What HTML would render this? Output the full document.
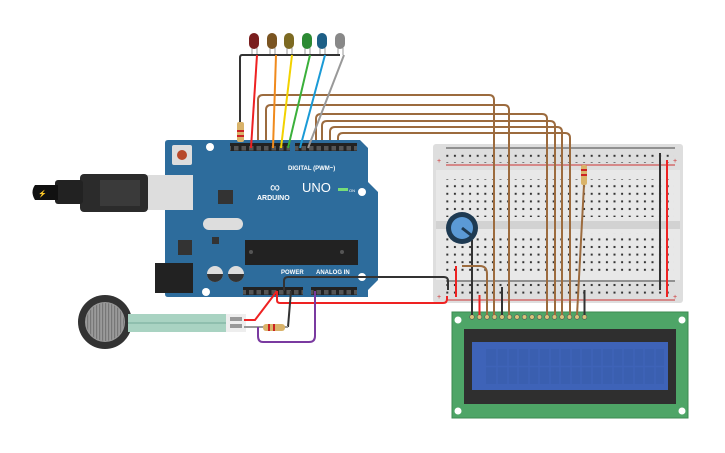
<!DOCTYPE html>
<html><head><style>html,body{margin:0;padding:0;background:#fff;width:725px;height:453px;overflow:hidden}</style></head>
<body>
<svg width="725" height="453" viewBox="0 0 725 453" xmlns="http://www.w3.org/2000/svg" font-family="Liberation Sans, sans-serif">
<defs>
<pattern id="holes" x="443.5" y="0" width="7.6" height="7.6" patternUnits="userSpaceOnUse"><rect x="2.8" y="2.8" width="2" height="2" fill="#333"/></pattern>
<pattern id="pins" x="0" y="0" width="7.5" height="8" patternUnits="userSpaceOnUse"><rect x="1.5" y="2" width="4.5" height="4.5" fill="#555"/></pattern>
<pattern id="stripes" x="0" y="0" width="3" height="3" patternUnits="userSpaceOnUse"><rect x="0" y="0" width="1.2" height="3" fill="#777"/></pattern>
</defs>
<!-- breadboard -->
<rect x="433" y="144" width="250" height="159" rx="3" fill="#dedede"/>
<rect x="436" y="170" width="244" height="110" fill="#e8e8e8"/>
<rect x="436" y="221" width="244" height="8" fill="#d2d2d2"/>
<line x1="446" y1="148" x2="675" y2="148" stroke="#444" stroke-width="1"/>
<line x1="446" y1="165" x2="675" y2="165" stroke="#c33" stroke-width="1"/>
<line x1="446" y1="281" x2="675" y2="281" stroke="#444" stroke-width="1"/>
<line x1="446" y1="300" x2="675" y2="300" stroke="#c33" stroke-width="1"/>
<rect x="446" y="150" width="228" height="13" fill="url(#holes)"/>
<rect x="446" y="179" width="228" height="38" fill="url(#holes)"/>
<rect x="446" y="233" width="228" height="38" fill="url(#holes)"/>
<rect x="446" y="283" width="228" height="13" fill="url(#holes)"/>
<text x="437" y="163" font-size="7" fill="#c33">+</text><text x="673" y="163" font-size="7" fill="#c33">+</text>
<text x="437" y="299" font-size="7" fill="#c33">+</text><text x="673" y="299" font-size="7" fill="#c33">+</text>
<line x1="660" y1="153" x2="660" y2="290" stroke="#333" stroke-width="2"/>
<line x1="667" y1="160" x2="667" y2="297" stroke="#e22" stroke-width="2"/>
<line x1="456" y1="266" x2="456" y2="297" stroke="#e22" stroke-width="2"/>
<!-- LCD -->
<rect x="452" y="312" width="236" height="106" fill="#4ea567" stroke="#3c8a52"/>
<circle cx="458" cy="320" r="3.5" fill="#fff"/><circle cx="682" cy="320" r="3.5" fill="#fff"/>
<circle cx="458" cy="411" r="3.5" fill="#fff"/><circle cx="682" cy="411" r="3.5" fill="#fff"/>
<rect x="464" y="329" width="212" height="75" fill="#2f2f2f"/>
<rect x="472" y="342" width="196" height="48" fill="#3e63b8"/>
<rect x="486" y="349" width="178" height="35" fill="#3a5fb0"/>
<g stroke="#3e63b8" stroke-width="1.5">
<line x1="497" y1="349" x2="497" y2="384"/><line x1="508" y1="349" x2="508" y2="384"/><line x1="518" y1="349" x2="518" y2="384"/><line x1="529" y1="349" x2="529" y2="384"/><line x1="539" y1="349" x2="539" y2="384"/><line x1="550" y1="349" x2="550" y2="384"/><line x1="560" y1="349" x2="560" y2="384"/><line x1="571" y1="349" x2="571" y2="384"/><line x1="581" y1="349" x2="581" y2="384"/><line x1="592" y1="349" x2="592" y2="384"/><line x1="602" y1="349" x2="602" y2="384"/><line x1="613" y1="349" x2="613" y2="384"/><line x1="623" y1="349" x2="623" y2="384"/><line x1="634" y1="349" x2="634" y2="384"/><line x1="644" y1="349" x2="644" y2="384"/><line x1="655" y1="349" x2="655" y2="384"/>
<line x1="486" y1="366.5" x2="664" y2="366.5"/>
</g>
<g fill="#d8c37a" stroke="#555" stroke-width="0.6">
<circle cx="472" cy="317" r="2.3"/><circle cx="479.5" cy="317" r="2.3"/><circle cx="487" cy="317" r="2.3"/><circle cx="494.5" cy="317" r="2.3"/><circle cx="502" cy="317" r="2.3"/><circle cx="509.5" cy="317" r="2.3"/><circle cx="517" cy="317" r="2.3"/><circle cx="524.5" cy="317" r="2.3"/><circle cx="532" cy="317" r="2.3"/><circle cx="539.5" cy="317" r="2.3"/><circle cx="547" cy="317" r="2.3"/><circle cx="554.5" cy="317" r="2.3"/><circle cx="562" cy="317" r="2.3"/><circle cx="569.5" cy="317" r="2.3"/><circle cx="577" cy="317" r="2.3"/><circle cx="584.5" cy="317" r="2.3"/>
</g>
<line x1="472" y1="240" x2="472" y2="315" stroke="#333" stroke-width="2"/>
<line x1="479.5" y1="295" x2="479.5" y2="315" stroke="#e22" stroke-width="2"/>
<path d="M462 266 H480 Q487 266 487 274 V315" fill="none" stroke="#9c6b3e" stroke-width="2"/>
<line x1="502" y1="287" x2="502" y2="315" stroke="#333" stroke-width="2"/>
<line x1="584.5" y1="290" x2="584.5" y2="315" stroke="#333" stroke-width="2"/>
<line x1="584" y1="185" x2="577" y2="315" stroke="#9c6b3e" stroke-width="2"/>
<rect x="581" y="165" width="6" height="20" rx="2" fill="#d9b36a"/>
<rect x="581" y="169" width="6" height="2" fill="#c22"/><rect x="581" y="174" width="6" height="2" fill="#c22"/>
<g fill="none" stroke="#9c6b3e" stroke-width="2">
<path d="M258 148 V100 Q258 95 263 95 H489 Q494 95 494 100 V315"/>
<path d="M266 148 V110 Q266 105 271 105 H504 Q509 105 509 110 V315"/>
<path d="M316 148 V119 Q316 114 321 114 H542 Q547 114 547 119 V315"/>
<path d="M322 148 V126 Q322 121 327 121 H550 Q555 121 555 126 V315"/>
<path d="M330 148 V132 Q330 127 335 127 H557 Q562 127 562 132 V315"/>
<path d="M338 148 V138 Q338 133 343 133 H565 Q570 133 570 138 V315"/>
</g>
<circle cx="462" cy="228" r="16" fill="#1e3a52"/>
<circle cx="462" cy="228" r="11" fill="#5b9ad6"/>
<line x1="462" y1="228" x2="471" y2="235" stroke="#1e3a52" stroke-width="3"/>
<!-- Arduino -->
<path d="M168 140 H360 L368 148 V182 L378 192 V280 L368 290 V297 H168 Q165 297 165 294 V143 Q165 140 168 140 Z" fill="#2d6c9c"/>
<circle cx="210" cy="147" r="4" fill="#fff"/><circle cx="362" cy="192" r="4" fill="#fff"/><circle cx="362" cy="277" r="4" fill="#fff"/><circle cx="206" cy="292" r="4" fill="#fff"/>
<rect x="172" y="145" width="20" height="20" rx="2" fill="#ddd"/><circle cx="182" cy="155" r="5" fill="#b7492b"/>
<rect x="230" y="143" width="60" height="8" fill="#222"/><rect x="230" y="143" width="60" height="8" fill="url(#pins)"/>
<rect x="295" y="143" width="62" height="8" fill="#222"/><rect x="295" y="143" width="62" height="8" fill="url(#pins)"/>
<text x="288" y="170" font-size="6" font-weight="bold" fill="#fff">DIGITAL (PWM~)</text>
<text x="270" y="192" font-size="14" fill="#fff">∞</text>
<text x="257" y="200" font-size="7" font-weight="bold" fill="#fff">ARDUINO</text>
<text x="302" y="192" font-size="13" fill="#fff">UNO</text>
<rect x="338" y="188" width="10" height="3" fill="#7d7"/><text x="349" y="192" font-size="4" fill="#fff">ON</text>
<rect x="245" y="240" width="113" height="25" fill="#222"/>
<circle cx="251" cy="252" r="2" fill="#555"/><circle cx="342" cy="252" r="2" fill="#555"/>
<rect x="218" y="190" width="15" height="14" fill="#333"/>
<rect x="203" y="218" width="40" height="12" rx="6" fill="#ddd"/>
<rect x="178" y="240" width="14" height="15" fill="#333"/>
<rect x="212" y="237" width="7" height="7" fill="#333"/>
<circle cx="215" cy="274" r="8" fill="#ddd"/><path d="M207 274 A8 8 0 0 0 223 274Z" fill="#333"/>
<circle cx="236" cy="274" r="8" fill="#ddd"/><path d="M228 274 A8 8 0 0 0 244 274Z" fill="#333"/>
<rect x="155" y="263" width="38" height="30" fill="#222"/>
<rect x="243" y="287" width="60" height="8" fill="#222"/><rect x="243" y="287" width="60" height="8" fill="url(#pins)"/>
<rect x="311" y="287" width="46" height="8" fill="#222"/><rect x="311" y="287" width="46" height="8" fill="url(#pins)"/>
<text x="281" y="274" font-size="6" font-weight="bold" fill="#fff">POWER</text>
<text x="316" y="274" font-size="6" font-weight="bold" fill="#fff">ANALOG IN</text>
<!-- USB -->
<rect x="145" y="175" width="48" height="35" fill="#ddd"/>
<rect x="80" y="174" width="68" height="38" rx="4" fill="#2b2b2b"/>
<rect x="100" y="180" width="40" height="26" fill="#3a3a3a"/>
<rect x="55" y="180" width="28" height="24" rx="3" fill="#222"/>
<path d="M35 185 H58 V200 H35 Q30 192 35 185Z" fill="#111"/>
<text x="38" y="196" font-size="7" fill="#e8c040">⚡</text>
<!-- LEDs -->
<g stroke="#999" stroke-width="1">
<line x1="252" y1="48" x2="252" y2="55"/><line x1="257" y1="48" x2="257" y2="55"/>
<line x1="270" y1="48" x2="270" y2="55"/><line x1="275" y1="48" x2="275" y2="55"/>
<line x1="287" y1="48" x2="287" y2="55"/><line x1="292" y1="48" x2="292" y2="55"/>
<line x1="305" y1="48" x2="305" y2="55"/><line x1="310" y1="48" x2="310" y2="55"/>
<line x1="320" y1="48" x2="320" y2="55"/><line x1="325" y1="48" x2="325" y2="55"/>
<line x1="338" y1="48" x2="338" y2="55"/><line x1="343" y1="48" x2="343" y2="55"/>
</g>
<rect x="249" y="33" width="10" height="16" rx="5" fill="#7a1e1e"/>
<rect x="267" y="33" width="10" height="16" rx="5" fill="#7a5421"/>
<rect x="284" y="33" width="10" height="16" rx="5" fill="#7d6a22"/>
<rect x="302" y="33" width="10" height="16" rx="5" fill="#2c8a33"/>
<rect x="317" y="33" width="10" height="16" rx="5" fill="#1d5f86"/>
<rect x="335" y="33" width="10" height="16" rx="5" fill="#888"/>
<path d="M340 55 L242 55 Q240 55 240 58 V122" fill="none" stroke="#333" stroke-width="2"/>
<rect x="237" y="122" width="7" height="20" rx="2" fill="#d9b36a"/>
<rect x="237" y="130" width="7" height="2" fill="#c22"/><rect x="237" y="135" width="7" height="2" fill="#c22"/>
<g fill="none" stroke-width="2">
<line x1="257" y1="55" x2="251" y2="148" stroke="#e22"/>
<line x1="276" y1="55" x2="273" y2="148" stroke="#f08a1c"/>
<line x1="292" y1="55" x2="281" y2="148" stroke="#f2d200"/>
<line x1="310" y1="55" x2="288" y2="148" stroke="#3bb03b"/>
<line x1="325" y1="55" x2="300" y2="148" stroke="#1a9ad6"/>
<line x1="344" y1="55" x2="308" y2="148" stroke="#999"/>
</g>
<!-- force sensor -->
<circle cx="105" cy="322" r="27" fill="#333"/>
<circle cx="105" cy="322" r="20" fill="#9a9a9a"/>
<circle cx="105" cy="322" r="19" fill="url(#stripes)"/>
<rect x="128" y="314" width="100" height="18" fill="#a9d3c2"/>
<line x1="128" y1="323" x2="228" y2="323" stroke="#8fbfae" stroke-width="2"/>
<rect x="226" y="314" width="20" height="18" fill="#eee"/>
<rect x="230" y="317" width="12" height="4" fill="#999"/><rect x="230" y="324" width="12" height="4" fill="#999"/>
<g fill="none" stroke-width="2">
<path d="M244 320 H255 L277 291" stroke="#e22"/>
<path d="M277 291 V300 Q277 303 280 303 H443 Q447 303 447 299 V296" stroke="#e22"/>
<path d="M284 291 V281 Q284 277 288 277 H444 Q448 277 448 281 V290" stroke="#333"/>
<path d="M291 291 L288 327" stroke="#333"/>
<path d="M244 327 H288" stroke="#999"/>
<path d="M315 291 V336 Q315 342 309 342 H263 Q258 342 258 336 V327" stroke="#7a3aa0"/>
</g>
<rect x="263" y="324" width="22" height="7" rx="3" fill="#d9b36a"/>
<rect x="268" y="324" width="2" height="7" fill="#c22"/><rect x="273" y="324" width="2" height="7" fill="#c22"/>
</svg>
</body></html>
